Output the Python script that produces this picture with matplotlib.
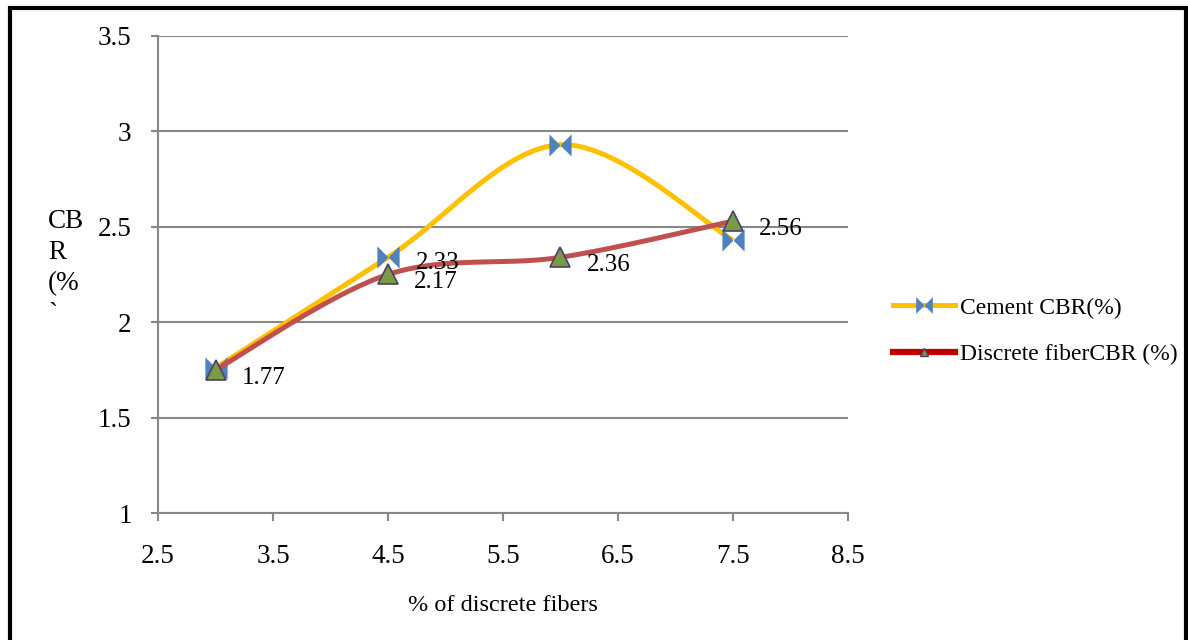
import numpy as np
import matplotlib.pyplot as plt
from matplotlib.path import Path
from matplotlib.lines import Line2D

# data
fiber_pct = [3.0, 4.5, 6.0, 7.5]
cement_cbr = [1.76, 2.34, 2.93, 2.43]
discrete_cbr = [1.75, 2.25, 2.34, 2.53]
cement_labels = {1: "2.33"}
discrete_labels = {0: "1.77", 1: "2.17", 2: "2.36", 3: "2.56"}
x_ticks = [2.5, 3.5, 4.5, 5.5, 6.5, 7.5, 8.5]
y_ticks = [1, 1.5, 2, 2.5, 3, 3.5]


def smooth(xs, ys, n=60):
    # Catmull-Rom spline, close to Excel's smoothed line
    p = np.column_stack([xs, ys]).astype(float)
    p = np.vstack([p[0], p, p[-1]])
    out = []
    for i in range(1, len(p) - 2):
        p0, p1, p2, p3 = p[i - 1], p[i], p[i + 1], p[i + 2]
        c1 = p1 + (p2 - p0) / 6
        c2 = p2 - (p3 - p1) / 6
        t = np.linspace(0, 1, n)[:, None]
        seg = ((1 - t) ** 3) * p1 + 3 * ((1 - t) ** 2) * t * c1 + 3 * (1 - t) * t ** 2 * c2 + t ** 3 * p2
        out.append(seg)
    out = np.vstack(out)
    return out[:, 0], out[:, 1]


bowtie = Path([(-1, 1), (0, 0), (-1, -1), (-1, 1), (1, 1), (0, 0), (1, -1), (1, 1)],
              [Path.MOVETO, Path.LINETO, Path.LINETO, Path.CLOSEPOLY,
               Path.MOVETO, Path.LINETO, Path.LINETO, Path.CLOSEPOLY])

plt.rcParams['font.family'] = ['Liberation Serif', 'DejaVu Serif']

fig = plt.figure(figsize=(11.88, 6.4), dpi=100)
ax = fig.add_axes([0.133, 0.1984, 0.5808, 0.7454])

yellow = '#FFC000'
red = '#C0504D'
blue = '#4F81BD'
green = '#7A9A45'

sx, sy = smooth(fiber_pct, cement_cbr)
ax.plot(sx, sy, color=yellow, lw=3.6, zorder=3, solid_capstyle='butt')
ax.plot(fiber_pct, cement_cbr, ls='none', marker=bowtie, ms=16, color=blue, mew=0, zorder=3.5)

sx, sy = smooth(fiber_pct, discrete_cbr)
ax.plot(sx, sy, color=red, lw=3.6, zorder=4, solid_capstyle='butt')
ax.plot(fiber_pct, discrete_cbr, ls='none', marker='^', ms=14, color=green,
        mec='#4B3F6B', mew=1.2, zorder=4.5)

for i, s in cement_labels.items():
    ax.annotate(s, (fiber_pct[i], cement_cbr[i]), xytext=(28, -6), textcoords='offset pixels',
                ha='left', va='center', fontsize=18, zorder=6)
for i, s in discrete_labels.items():
    ax.annotate(s, (fiber_pct[i], discrete_cbr[i]), xytext=(26, -8), textcoords='offset pixels',
                ha='left', va='center', fontsize=18, zorder=6)

ax.set_xlim(2.5, 8.5)
ax.set_ylim(1, 3.5)
ax.set_xticks(x_ticks)
ax.set_yticks(y_ticks)
ax.set_xticklabels([f"{v:g}" for v in x_ticks])
ax.set_yticklabels([f"{v:g}" for v in y_ticks])
ax.tick_params(axis='both', labelsize=19.5, color='#878787', width=1.5)
ax.tick_params(axis='x', length=6, pad=16)
ax.tick_params(axis='y', length=5, pad=14)
ax.grid(axis='y', color='#878787', lw=1.5)
ax.set_axisbelow(True)
for side in ['top', 'right']:
    ax.spines[side].set_visible(False)
for side in ['left', 'bottom']:
    ax.spines[side].set_color('#878787')
    ax.spines[side].set_linewidth(1.5)

ax.set_xlabel('% of discrete fibers', fontsize=17.5, labelpad=19)
fig.text(48 / 1188, 1 - 268 / 640, 'CB\nR\n(%\n`', fontsize=19.5, ha='left', va='center',
         linespacing=1.32)

handles = [
    Line2D([], [], color=yellow, lw=3.6, marker=bowtie, ms=12, mfc=blue, mec=blue, mew=0),
    Line2D([], [], color='#C00000', lw=4.5, marker='^', ms=6, mfc=green, mec='#4B3F6B'),
]
fig.legend(handles, ['Cement CBR(%)', 'Discrete fiberCBR (%)'], loc='center left',
           bbox_to_anchor=(884 / 1188, 1 - 331 / 640), frameon=False, fontsize=17,
           handlelength=2.6, handletextpad=0.2, labelspacing=1.05, borderaxespad=0)

# black page border (left, top, right)
bx0, bx1, by = 10 / 1188, 1186 / 1188, 1 - 8 / 640
fig.add_artist(Line2D([bx0, bx0, bx1, bx1], [0, by, by, 0], color='black', lw=3,
                      transform=fig.transFigure, solid_joinstyle='miter'))

fig.savefig('out.png', dpi=100)
